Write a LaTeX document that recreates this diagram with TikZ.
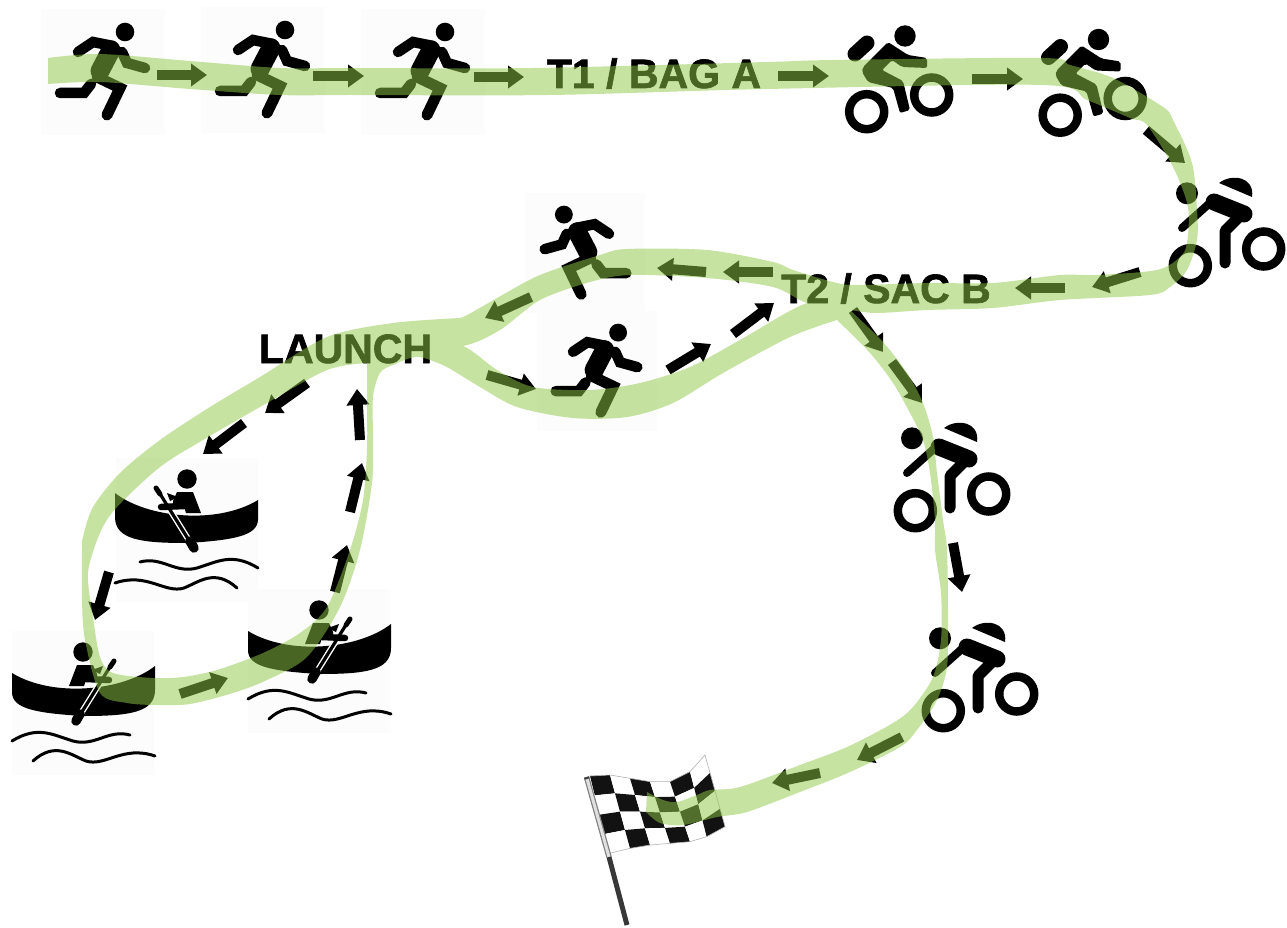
\documentclass[tikz,border=0pt]{standalone}
\usepackage{fontspec}
\setmainfont{Liberation Sans}[BoldFeatures={FakeBold=1.6}]
\usetikzlibrary{arrows.meta,calc}
\definecolor{RouteGreen}{RGB}{145,200,71}
\definecolor{IconBack}{RGB}{252,252,252}
\tikzset{
  limb/.style={line width=10.5pt,line cap=round,line join=miter},
  wheel/.style={line width=8.5pt},
  wave/.style={line width=3pt,line cap=round},
  runner/.pic={
    \fill[IconBack] (-62,-63) rectangle (62,63);
    \fill (22,-40) circle (9.3);
    \draw[limb] (-25,-20) -- (-10,-30) -- (10,-26);
    \draw[line width=19pt,line cap=round] (8,-22) -- (-3,-1);
    \draw[limb] (19,-20) -- (24,-9) -- (42,-4);
    \draw[limb,line width=11pt] (-6,5) -- (17,16) -- (4,43);
    \draw[limb] (-43,21) -- (-19,21) -- (-12,12);
  },
  bagbiker/.pic={
    \fill (5,-44) circle (10.7);
    \draw[limb,line width=15pt] (-45,-26) -- (-33,-37);
    \fill[rounded corners=2pt] (-12,-38) -- (8,-25) -- (27,-22) -- (27,-12) -- (2,-13) -- (-8,-20) -- (-18,-10)
      -- (3,1) -- (10,30) -- (0,33) -- (-7,8) -- (-32,2) -- (-38,-8) -- (-37,-13) -- cycle;
    \draw[wheel] (-33.3,31.7) circle (17.5);
    \draw[wheel] (31.7,15) circle (17.5);
  },
  bentbiker/.pic={
    \fill (-40,-41.7) circle (11);
    \fill (-8,-52) .. controls (5,-62) and (28,-58) .. (25,-38) -- cycle;
    \draw[limb,line width=17pt] (-13,-33) -- (17,-21);
    \draw[limb,line width=8pt] (-16,-33) -- (-45,-7);
    \draw[limb,line width=11pt,line join=round] (16,-22) -- (-2,-4) -- (-2,28);
    \draw[wheel] (-36.7,30.7) circle (17.5);
    \draw[wheel] (36.7,14) circle (17.5);
  },
  canoe/.pic={
    \fill[IconBack] (-71,-72) rectangle (71,72);
    \fill (-72,-37) .. controls (-40,-12) and (30,-5) .. (71,-30) -- (71,-10)
      .. controls (70,5) and (50,10) .. (0,13) .. controls (-45,13) and (-72,10) .. (-72,-13) -- cycle;
    \fill (0,-51) circle (9.7);
    \fill (-10,-38) -- (6,-38) -- (14,-17) -- (-1,-17) -- (-3,-23) -- (-14,-21) -- (-14,-29) -- cycle;
    \draw[line width=6.5pt,line cap=round] (-26,-23) -- (-3,-24);
    \fill (-20,-37) -- (-9,-33) -- (-17,-29) -- cycle;
    \draw[white,line width=6pt] (-15.7,-18) -- (8,20);
    \draw[line width=3.2pt] (-30,-41) -- (8,20);
    \draw[line width=5pt,line cap=round] (-31,-42) -- (-27,-36);
    \draw[line width=9.5pt,line cap=round] (3,11) -- (7,18);
    \draw[wave] (-47,32) .. controls (-25,26) and (-12,44) .. (10,38) .. controls (30,32) and (45,22) .. (71,38);
    \draw[wave] (-72,53) .. controls (-40,42) and (-22,64) .. (-3,58) .. controls (12,52) and (28,38) .. (50,58);
  }
}
\begin{document}
\begin{tikzpicture}[
    x=1pt,y=-1pt,
    arr/.style={line width=10pt,-{Triangle[length=16pt,width=22pt]}},
    stage/.style={anchor=base,inner sep=0pt,font=\bfseries\fontsize{41}{41}\selectfont}
  ]
  \useasboundingbox (0,0) rectangle (1287,928);
  \pic (run1) at (103,72) {runner};
  \pic (run2) at (263,70) {runner};
  \pic (run3) at (423,72) {runner};
  \pic[xscale=-1,scale=.96] (run4) at (585,253) {runner};
  \pic[scale=.96] (run5) at (597,371) {runner};
  \pic (bike1) at (900,80) {bagbiker};
  \pic (bike2) at (1093.5,83.5) {bagbiker};
  \pic (bike3) at (1227,235) {bentbiker};
  \pic (bike4) at (952,480) {bentbiker};
  \pic (bike5) at (980,680) {bentbiker};
  \pic (boat1) at (187,530) {canoe};
  \pic[xscale=-1] (boat2) at (83,703) {canoe};
  \pic[xscale=-1] (boat3) at (319,661) {canoe};
  \foreach \n/\tx/\ty/\bx/\by in {
      0/60/108/118/340,1/120/105/180/325,2/180/115/240/315,3/240/125/300/310,
      4/300/125/360/305,5/360/95/410/290,6/405/45/465/260}{
    \coordinate (t\n) at ({570+\tx/3},{740+\ty/3});
    \coordinate (b\n) at ({570+\bx/3},{740+\by/3});
  }
  \foreach \i in {0,...,5}{
    \foreach \j in {0,...,3}{
      \pgfmathtruncatemacro{\ii}{\i+1}
      \pgfmathtruncatemacro{\jj}{\j+1}
      \pgfmathtruncatemacro{\tone}{mod(\i+\j,2)==0 ? 7 : 100}
      \fill[fill=white!\tone!black]
        ($(t\i)!\j/4!(b\i)$) -- ($(t\ii)!\j/4!(b\ii)$) -- ($(t\ii)!\jj/4!(b\ii)$) -- ($(t\i)!\jj/4!(b\i)$) -- cycle;
    }
  }
  \draw[black!30,line width=.6pt] (t0) -- (t1) -- (t2) -- (t3) -- (t4) -- (t5) -- (t6) -- (b6) -- (b5) -- (b4) -- (b3) -- (b2) -- (b1) -- (b0);
  \coordinate (poleA) at (586.5,777);
  \coordinate (poleB) at (609,857);
  \coordinate (poleC) at (627,925);
  \draw[black!50,line width=5.5pt] (poleA) -- (poleB);
  \draw[black!12,line width=3pt] (poleA) -- (poleB);
  \draw[black!78,line width=5pt] (poleB) -- (poleC);
  \draw[black!75,line width=5pt] (poleA) -- ++(.6,2);
  \node[stage] (t1bag) at (654,88) {T1 / BAG A};
  \node[stage] (t2bag) at (886,303) {T2 / SAC B};
  \node[stage] (launch) at (345.5,363) {LAUNCH};
  \foreach \n/\ax/\ay/\bx/\by in {
      1/157/75/207/75,2/313/76/364/76,3/474/77/524/77,4/778/76/829/76,5/972/79/1023/79,
      6/1146/130/1185/163,7/1140/272/1092/287,8/1065/288/1015/288,9/773/272/723/272,
      10/706/272/657/268,11/531/297/485/318,12/487/375/536/389,13/668/370/711/344,
      14/733/334/774/303,15/853/310/883/352,16/892/362/922/403,17/953/543/962/592,
      18/902/737/857/760,19/820/773/772/783,20/307/383/265/413,21/244/423/203/454,
      22/109/572/95/620,23/180/694/228/678,24/335/592/347/545,25/350/512/362/463,
      26/360/440/357/389}{
    \coordinate (from\n) at (\ax,\ay);
    \coordinate (to\n) at (\bx,\by);
    \draw[arr] (from\n) -- (to\n);
  }
  \begin{scope}[transparency group,opacity=.51]
    \fill[RouteGreen] plot[smooth,tension=.5] coordinates {(48,58) (100,54) (190,61) (280,68) (350,68) (533,68) (767,62) (833,60) (1043,58) (1070,65) (1113,78) (1163,107) (1173,120) (1192,163) (1197,210) (1197,240) (1187,270) (1170,287) (1150,295) (1060,300) (993,308) (927,310) (877,313) (850,310) (807,303) (773,287) (707,278) (630,275) (590,282) (540,300) (500,330) (463,346) (400,350)}
      -- plot[smooth,tension=.5] coordinates {(400,325) (440,322) (463,317) (497,298) (540,275) (600,255) (627,249) (707,250) (773,262) (793,270) (837,283) (860,285) (927,283) (993,283) (1060,275) (1097,275) (1157,270) (1180,257) (1187,243) (1188,207) (1173,167) (1147,125) (1130,118) (1087,100) (1043,85) (767,89) (550,95) (350,95) (280,95) (190,89) (100,82) (48,84)}
      -- cycle;
    \fill[RouteGreen] plot[smooth,tension=.5] coordinates {(420,340) (463,346) (497,370) (533,387) (590,390) (640,383) (690,367) (740,340) (807,303) (850,305)}
      -- plot[smooth,tension=.5] coordinates {(837,320) (790,337) (723,373) (673,403) (627,417) (573,418) (517,407) (480,387) (440,363) (420,357)}
      -- cycle;
    \fill[RouteGreen] plot[smooth,tension=.5] coordinates {(840,300) (850,310) (883,342) (907,373) (923,403) (933,437) (937,473) (943,520) (947,550) (948,617) (947,667) (937,700) (917,730) (900,747) (850,772) (800,792) (747,812) (717,817) (683,825) (660,823) (646,812)}
      -- plot[smooth,tension=.5] coordinates {(647,792) (663,800) (677,802) (697,795) (710,790) (740,787) (800,765) (847,747) (893,723) (913,707) (933,677) (941,640) (941,593) (935,550) (935,520) (930,473) (923,440) (910,413) (893,383) (870,353) (837,320)}
      -- cycle;
    \fill[RouteGreen,even odd rule] plot[smooth,tension=.5] coordinates {(460,318) (393,323) (327,337) (260,377) (210,407) (160,440) (120,473) (93,507) (83,537) (82,550) (82,600) (85,640) (100,693) (127,703) (157,705) (190,704) (233,693) (267,680) (307,657) (340,607) (360,550) (372,483) (373,440) (373,397) (380,373) (393,365) (420,357) (460,373)}
      -- cycle
      plot[smooth,tension=.5] coordinates {(367,363) (327,370) (267,403) (203,440) (160,467) (117,507) (100,533) (88,573) (93,617) (100,657) (113,673) (153,678) (183,677) (217,670) (263,653) (300,633) (327,607) (350,550) (363,500) (367,450) (367,397) (367,363)}
      -- cycle;
  \end{scope}
\end{tikzpicture}
\end{document}
